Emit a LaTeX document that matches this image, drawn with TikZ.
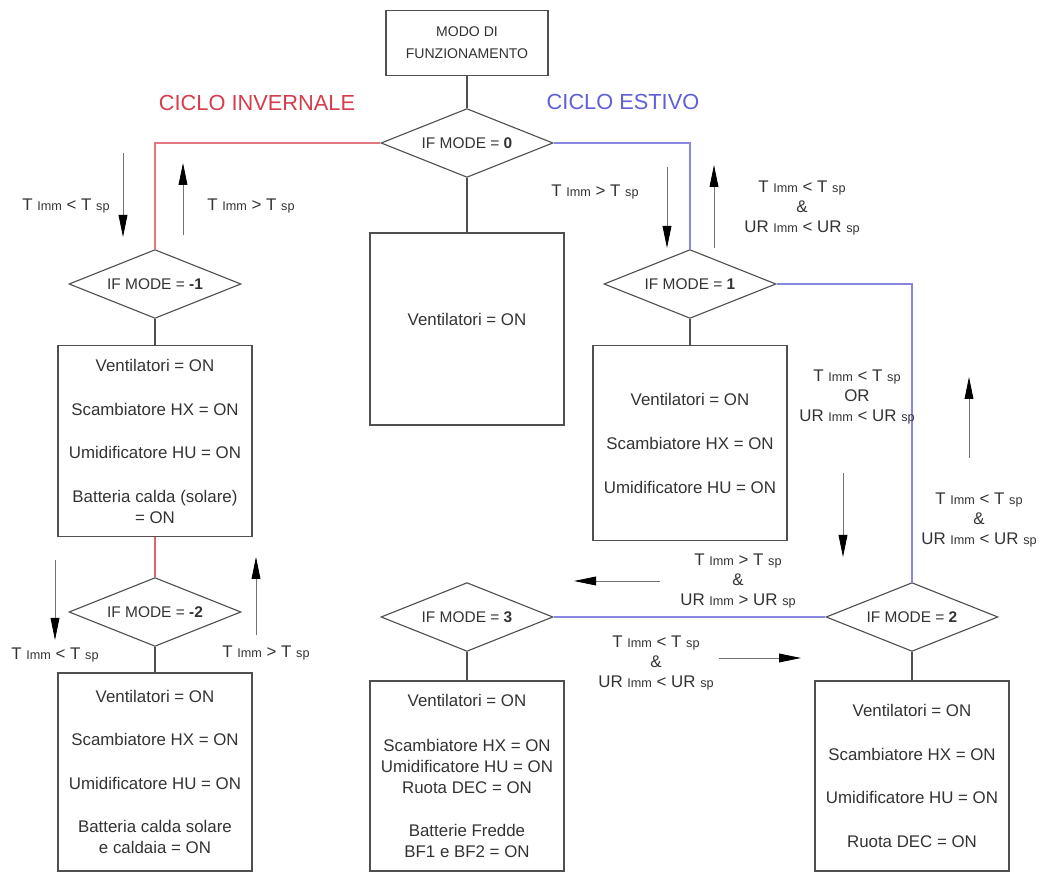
\documentclass[tikz,border=0pt]{standalone}
\usepackage{fontspec}
\setmainfont{Liberation Sans}
\usetikzlibrary{shapes.geometric,arrows.meta}

\definecolor{winter}{RGB}{214,60,75}
\definecolor{summer}{RGB}{95,95,215}
\definecolor{edge}{RGB}{80,80,80}
\newcommand{\imm}{{\fontsize{9}{10}\selectfont Imm}}
\newcommand{\spt}{{\fontsize{9}{10}\selectfont sp}}

\begin{document}
\begin{tikzpicture}[font=\fontsize{12}{15}\selectfont, text=black!80,
    box/.style={draw=edge, thick, rectangle, align=center, minimum width=4.85cm, minimum height=4.8cm, inner sep=2pt},
    choice/.style={draw=edge, thick, diamond, aspect=2.5, minimum width=4.3cm, minimum height=1.72cm, inner sep=0pt, font=\fontsize{11}{13}\selectfont},
    cond/.style={align=center, font=\fontsize{12}{14.2}\selectfont},
    hint/.style={-{Triangle[length=5.5mm,width=2.2mm,black]}, black!55, semithick},
    link/.style={edge, thick}]
        \useasboundingbox (0,0) rectangle (26.025,21.875);

        % titles
        \node[font=\fontsize{15.5}{18}\selectfont, text=winter] (tw) at (6.425,19.3) {CICLO INVERNALE};
        \node[font=\fontsize{15.5}{18}\selectfont, text=summer] (ts) at (15.575,19.325) {CICLO ESTIVO};

        % start + mode 0
        \node[box, minimum width=4.05cm, minimum height=1.625cm, font=\fontsize{10}{15.5}\selectfont] (modo) at (11.675,20.8) {MODO DI\\FUNZIONAMENTO};
        \node[choice] (d0) at (11.675,18.3) {IF MODE = \textbf{0}};
        \node[box] (b0) at (11.675,13.65) {Ventilatori = ON\\[-2pt]};

        % winter
        \node[choice] (dm1) at (3.875,14.775) {IF MODE = \textbf{-1}};
        \node[box, minimum height=4.775cm] (bm1) at (3.875,10.84) {Ventilatori = ON\\[16pt]Scambiatore HX = ON\\[16pt]Umidificatore HU = ON\\[16pt]Batteria calda (solare)\\= ON};
        \node[choice] (dm2) at (3.875,6.575) {IF MODE = \textbf{-2}};
        \node[box, minimum height=4.95cm] (bm2) at (3.875,2.575) {Ventilatori = ON\\[16pt]Scambiatore HX = ON\\[16pt]Umidificatore HU = ON\\[16pt]Batteria calda solare\\e caldaia = ON};

        % summer
        \node[choice] (d1) at (17.25,14.775) {IF MODE = \textbf{1}};
        \node[box, minimum height=4.875cm] (b1) at (17.25,10.79) {Ventilatori = ON\\[16pt]Scambiatore HX = ON\\[16pt]Umidificatore HU = ON};
        \node[choice] (d2) at (22.8,6.45) {IF MODE = \textbf{2}};
        \node[box, minimum height=4.75cm] (b2) at (22.8,2.475) {Ventilatori = ON\\[16pt]Scambiatore HX = ON\\[16pt]Umidificatore HU = ON\\[16pt]Ruota DEC = ON};
        \node[choice] (d3) at (11.675,6.45) {IF MODE = \textbf{3}};
        \node[box, minimum height=4.75cm] (b3) at (11.675,2.475) {Ventilatori = ON\\[17pt]Scambiatore HX = ON\\Umidificatore HU = ON\\Ruota DEC = ON\\[16pt]Batterie Fredde\\BF1 e BF2 = ON};

        % connectors
        \draw[link] (modo) -- (d0);
        \draw[link] (d0) -- (b0);
        \draw[winter!70, very thick] (d0.west) -| (dm1.north);
        \draw[link] (dm1) -- (bm1);
        \draw[winter!80, thick] (bm1) -- (dm2);
        \draw[link] (dm2) -- (bm2);
        \draw[summer!75, very thick] (d0.east) -| (d1.north);
        \draw[link] (d1) -- (b1);
        \draw[summer!75, very thick] (d1.east) -| (d2.north);
        \draw[link] (d2) -- (b2);
        \draw[summer!75, very thick] (d2.west) -- (d3.east);
        \draw[link] (d3) -- (b3);

        % conditions
        \node[cond] (c1) at (1.65,16.725) {T \imm{} < T \spt};
        \node[cond] (c2) at (6.275,16.725) {T \imm{} > T \spt};
        \node[cond] (c3) at (1.375,5.5) {T \imm{} < T \spt};
        \node[cond] (c4) at (6.65,5.55) {T \imm{} > T \spt};
        \node[cond] (c5) at (14.875,17.075) {T \imm{} > T \spt};
        \node[cond] (c6) at (20.05,16.675) {T \imm{} < T \spt\\\&\\UR \imm{} < UR \spt};
        \node[cond] (c7) at (21.425,11.95) {T \imm{} < T \spt\\OR\\UR \imm{} < UR \spt};
        \node[cond] (c8) at (24.475,8.875) {T \imm{} < T \spt\\\&\\UR \imm{} < UR \spt};
        \node[cond] (c9) at (18.45,7.35) {T \imm{} > T \spt\\\&\\UR \imm{} > UR \spt};
        \node[cond] (c10) at (16.4,5.3) {T \imm{} < T \spt\\\&\\UR \imm{} < UR \spt};

        % direction arrows
        \coordinate (a1s) at (3.075,18.05);  \coordinate (a1e) at (3.075,15.95);
        \coordinate (a2s) at (4.575,16.0);   \coordinate (a2e) at (4.575,17.8);
        \coordinate (a3s) at (1.375,7.875);  \coordinate (a3e) at (1.375,5.875);
        \coordinate (a4s) at (6.4,6.0);      \coordinate (a4e) at (6.4,7.95);
        \coordinate (a5s) at (16.675,17.7);  \coordinate (a5e) at (16.675,15.675);
        \coordinate (a6s) at (17.85,15.675); \coordinate (a6e) at (17.85,17.75);
        \coordinate (a7s) at (21.075,10.05); \coordinate (a7e) at (21.075,7.95);
        \coordinate (a8s) at (24.225,10.425); \coordinate (a8e) at (24.225,12.45);
        \coordinate (a9s) at (16.5,7.35);    \coordinate (a9e) at (14.35,7.35);
        \coordinate (a10s) at (17.975,5.425); \coordinate (a10e) at (20.025,5.425);
        \draw[hint] (a1s) -- (a1e);
        \draw[hint] (a2s) -- (a2e);
        \draw[hint] (a3s) -- (a3e);
        \draw[hint] (a4s) -- (a4e);
        \draw[hint] (a5s) -- (a5e);
        \draw[hint] (a6s) -- (a6e);
        \draw[hint] (a7s) -- (a7e);
        \draw[hint] (a8s) -- (a8e);
        \draw[hint] (a9s) -- (a9e);
        \draw[hint] (a10s) -- (a10e);
\end{tikzpicture}
\end{document}
